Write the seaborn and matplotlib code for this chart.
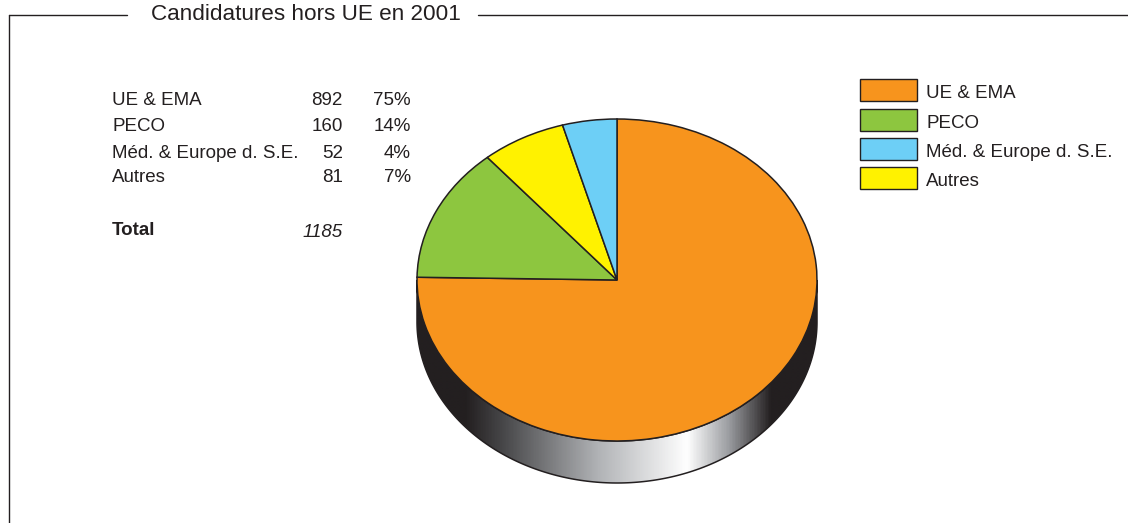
import matplotlib
matplotlib.use("Agg")
import matplotlib.pyplot as plt
import numpy as np
import seaborn as sns
from matplotlib.patches import Rectangle, PathPatch
from matplotlib.path import Path
from matplotlib.colors import LinearSegmentedColormap

# data
categories = ["UE & EMA", "PECO", "Méd. & Europe d. S.E.", "Autres"]
counts = [892, 160, 52, 81]
percents = ["75%", "14%", "4%", "7%"]
total = 1185
colors = ["#F7941D", "#8DC63F", "#6DCFF6", "#FFF200"]
# order of the slices clockwise from the top
pie_order = [0, 1, 3, 2]

sns.set_style("white")
plt.rcParams["font.family"] = ["Liberation Sans", "DejaVu Sans"]

W, H = 1128, 523
fig = plt.figure(figsize=(W / 100, H / 100), dpi=100)

# background axes in pixel coords for frame, text and legend
bg = fig.add_axes([0, 0, 1, 1])
bg.set_xlim(0, W)
bg.set_ylim(H, 0)
bg.axis("off")

dark = "#231f20"
fs = 13.5
bg.plot([9, 9], [15, H + 5], color=dark, lw=1)
bg.plot([9, 127], [15, 15], color=dark, lw=1)
bg.plot([478, W + 5], [15, 15], color=dark, lw=1)
bg.text(306, 20, "Candidatures hors UE en 2001", fontsize=16.2, color=dark,
        ha="center", va="baseline")

# table on the left
rows_base = [105, 131, 157.5, 182]
for i, cat in enumerate(categories):
    bg.text(112, rows_base[i], cat, fontsize=fs, color=dark, ha="left", va="baseline")
    bg.text(343, rows_base[i], str(counts[i]), fontsize=fs, color=dark, ha="right", va="baseline")
    bg.text(411, rows_base[i], percents[i], fontsize=fs, color=dark, ha="right", va="baseline")
bg.text(112, 235, "Total", fontsize=fs, color=dark, weight="bold", ha="left", va="baseline")
bg.text(343, 237, str(total), fontsize=fs, color=dark, style="italic", ha="right", va="baseline")

# legend
leg_y = [79, 109, 138, 167]
for i, cat in enumerate(categories):
    bg.add_patch(Rectangle((860, leg_y[i]), 57, 22, facecolor=colors[i],
                           edgecolor=dark, lw=1))
    bg.text(926, leg_y[i] + 19, cat, fontsize=fs, color=dark, ha="left", va="baseline")

# pie axes: rx 200 px, ry 161 px, depth 42 px, centre (617, 280)
cx, cy, rx, ry, depth = 617, 280, 200, 161, 42
d = depth / ry
pad = 1.1
ax = fig.add_axes([(cx - pad * rx) / W, 1 - (cy + (pad + d) * ry) / H,
                   2 * pad * rx / W, (2 * pad + d) * ry / H])

vals = [counts[k] for k in pie_order]
cols = [colors[k] for k in pie_order]
ax.pie(vals, colors=cols, startangle=90, counterclock=False,
       wedgeprops=dict(edgecolor=dark, linewidth=1.1))
ax.set_aspect("auto")
ax.axis("off")

# cylinder side with a metallic gradient
t = np.linspace(np.pi, 2 * np.pi, 200)
upper = np.column_stack([np.cos(t), np.sin(t)])
lower = np.column_stack([np.cos(t[::-1]), np.sin(t[::-1]) - d])
verts = np.vstack([upper, lower, upper[:1]])
codes = [Path.MOVETO] + [Path.LINETO] * (len(verts) - 2) + [Path.CLOSEPOLY]
side_path = Path(verts, codes)

side_cmap = LinearSegmentedColormap.from_list("side", [
    (0.0, dark), (0.12, dark), (0.22, "#4a4a4c"), (0.45, "#b0b2b5"),
    (0.675, "#ffffff"), (0.78, "#9a9ca0"), (0.885, dark), (1.0, dark)])
grad = np.linspace(0, 1, 400).reshape(1, -1)
img = ax.imshow(grad, cmap=side_cmap, extent=(-1, 1, -1 - d, 0),
                aspect="auto", zorder=0, interpolation="bilinear")
side_patch = PathPatch(side_path, facecolor="none", edgecolor=dark, lw=1.1, zorder=0.5)
ax.add_patch(side_patch)
img.set_clip_path(side_patch)
ax.set_xlim(-pad, pad)
ax.set_ylim(-pad - d, pad)

fig.savefig("out.png", dpi=100)
